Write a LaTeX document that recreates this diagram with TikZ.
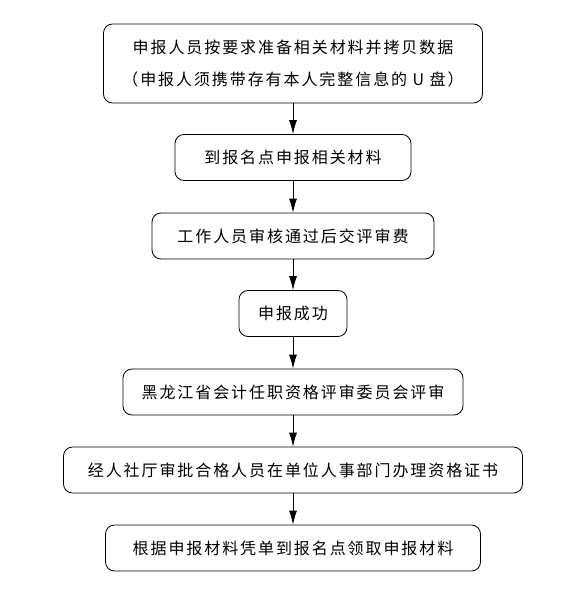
\documentclass[tikz,border=0pt]{standalone}
\usepackage{fontspec}
\setmainfont{Noto Sans CJK SC}[LetterSpace=12]
\usetikzlibrary{arrows.meta}

\begin{document}
\begin{tikzpicture}[>={Latex[length=14pt,width=8pt]}, x=1pt, y=-1pt,
    box/.style={draw, rounded corners=9pt, line width=0.8pt, minimum height=46pt,
      inner sep=0pt, align=center, font=\fontsize{16}{32}\selectfont}]
  \useasboundingbox (0,0) rectangle (584,591);
  % first step: two lines
  \node[box, minimum width=379pt, minimum height=79pt] (b1) at (293,63.5)
    {申报人员按要求准备相关材料并拷贝数据\\（申报人须携带存有本人完整信息的 U 盘）};
  % the other steps, top to bottom
  \foreach \n/\yc/\w/\lab in {2/157.5/236/{到报名点申报相关材料},
      3/236/282/{工作人员审核通过后交评审费},
      4/313.5/108/{申报成功},
      5/392/340/{黑龙江省会计任职资格评审委员会评审},
      6/470/459/{经人社厅审批合格人员在单位人事部门办理资格证书},
      7/548/375/{根据申报材料凭单到报名点领取申报材料}} {
    \node[box, minimum width=\w pt] (b\n) at (293,\yc) {\lab};
  }
  % arrows between steps
  \foreach \i in {1,...,6} {
    \pgfmathtruncatemacro\j{\i+1}
    \draw[->, line width=0.8pt] (b\i.south) -- (b\j.north);
  }
\end{tikzpicture}
\end{document}
